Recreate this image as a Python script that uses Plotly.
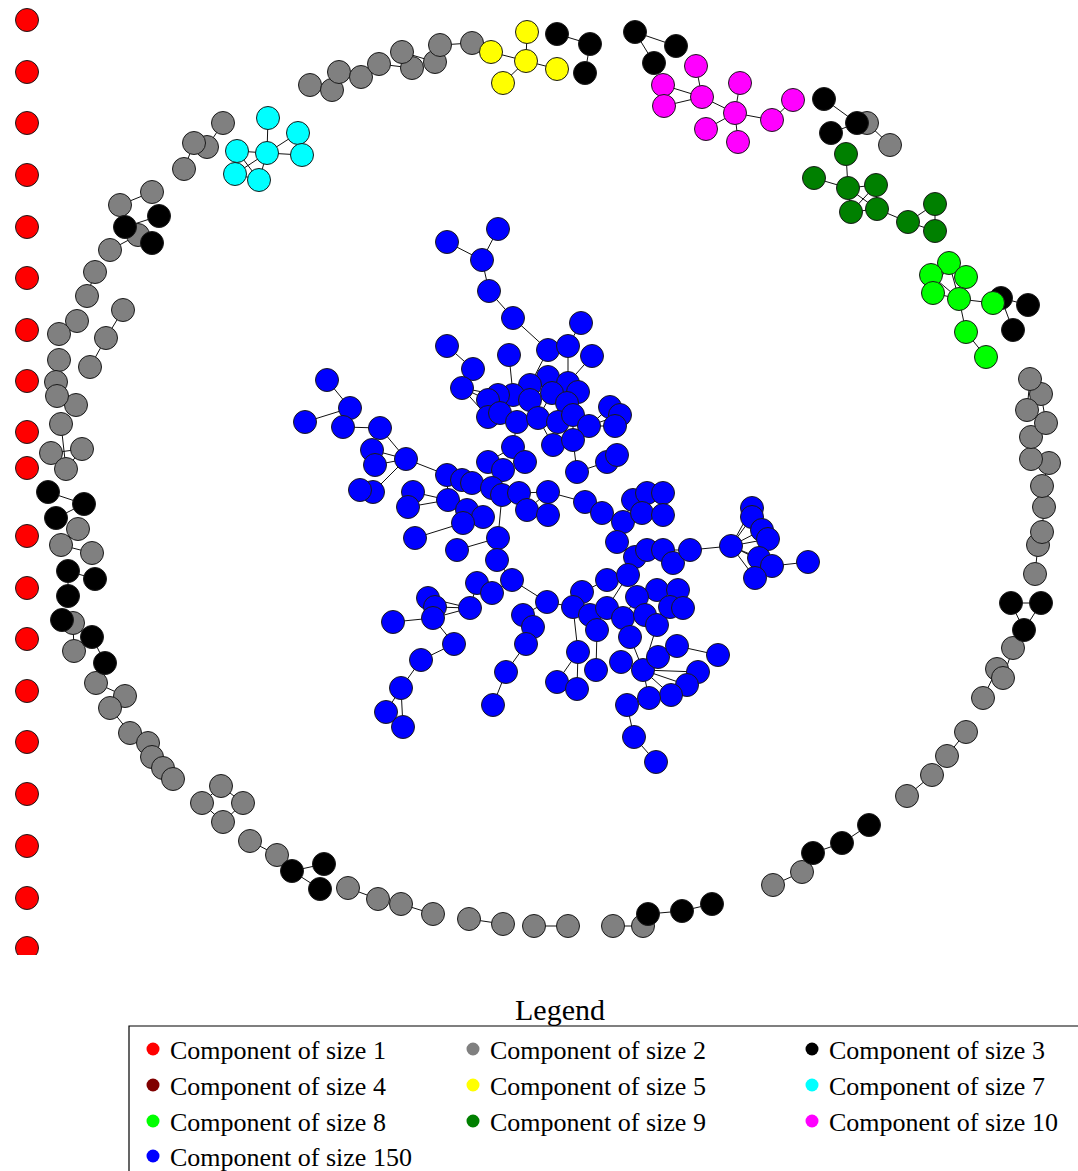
import plotly.graph_objects as go

# ---------------- data: node positions (layout coordinates) ----------------
red_x = [27] * 19
red_y = [20, 72, 123, 175, 227, 278, 330, 381, 432, 468, 536, 588, 639, 691, 742, 794, 846, 898, 948]
red_edges = []

gray_x = [310, 332, 339, 361, 379, 412, 402, 435, 440, 472,
          223, 207, 194, 184, 152, 120, 138, 110,
          95, 87, 77, 106, 123, 90, 59, 59,
          56, 76, 57, 61, 51, 82, 66,
          78, 61, 92, 73, 74,
          96, 125, 110, 130, 148, 152, 163, 173,
          221, 202, 243, 223,
          250, 277, 348, 378, 401, 433, 469, 503, 534, 568, 613, 643,
          773, 802, 907, 932, 947, 966, 983, 997, 1003, 1013,
          1035, 1038, 1042, 1044, 1042, 1049, 1031, 1031, 1046, 1041, 1027, 1030,
          867, 890]
gray_y = [85, 90, 72, 77, 64, 68, 52, 62, 45, 43,
          123, 147, 143, 169, 192, 205, 235, 250,
          272, 296, 321, 338, 310, 367, 334, 360,
          382, 405, 396, 424, 453, 449, 469,
          529, 545, 553, 623, 651,
          683, 696, 708, 733, 743, 757, 768, 779,
          786, 803, 803, 822,
          841, 855, 888, 899, 904, 914, 919, 924, 926, 926, 926, 926,
          885, 872, 796, 775, 756, 732, 698, 669, 678, 648,
          574, 545, 532, 507, 486, 463, 459, 437, 423, 394, 410, 379,
          123, 145]
gray_edges = [(0, 1), (2, 3), (4, 5), (6, 7), (8, 9), (10, 11), (12, 13), (14, 15), (16, 17),
              (18, 19), (20, 24), (21, 22), (23, 21), (25, 26), (27, 28), (29, 32), (30, 31), (32, 31),
              (33, 34), (34, 35), (36, 37), (38, 39), (40, 41), (42, 43), (44, 45),
              (46, 47), (46, 48), (47, 49), (48, 49),
              (50, 51), (52, 53), (54, 55), (56, 57), (58, 59), (60, 61),
              (62, 63), (64, 65), (66, 67), (68, 69), (70, 71),
              (72, 73), (74, 75), (76, 77), (78, 79), (80, 81), (82, 83), (84, 85)]

black_x = [557, 590, 585, 635, 676, 654, 824, 857, 831, 1001, 1028, 1013,
           1011, 1041, 1024, 869, 842, 813, 712, 682, 648, 324, 292, 320,
           62, 92, 105, 68, 95, 68, 48, 84, 56, 159, 125, 152]
black_y = [34, 44, 73, 32, 46, 63, 99, 123, 133, 298, 305, 330,
           603, 603, 630, 825, 843, 853, 904, 911, 914, 864, 871, 889,
           620, 637, 663, 571, 579, 596, 492, 504, 518, 216, 227, 243]
black_edges = [(0, 1), (1, 2), (3, 4), (3, 5), (6, 7), (7, 8), (9, 10), (9, 11),
               (12, 13), (13, 14), (12, 14), (15, 16), (16, 17), (18, 19), (19, 20),
               (21, 22), (22, 23), (24, 25), (25, 26), (27, 28), (27, 29),
               (30, 31), (31, 32), (33, 34), (34, 35)]

darkred_x, darkred_y, darkred_edges = [], [], []

yellow_x = [527, 491, 526, 557, 503]
yellow_y = [32, 52, 61, 69, 83]
yellow_edges = [(0, 2), (1, 2), (2, 3), (2, 4)]

cyan_x = [268, 298, 237, 267, 302, 235, 259]
cyan_y = [118, 133, 151, 153, 155, 174, 180]
cyan_edges = [(0, 3), (2, 3), (3, 4), (1, 3), (1, 4), (2, 5), (2, 6), (3, 5), (3, 6), (5, 6)]

lime_x = [949, 931, 966, 933, 959, 993, 966, 986]
lime_y = [263, 275, 277, 293, 299, 303, 332, 357]
lime_edges = [(0, 1), (0, 2), (1, 3), (2, 4), (3, 4), (0, 3), (1, 4), (0, 4), (4, 5), (4, 6), (6, 7)]

dgreen_x = [846, 814, 848, 876, 851, 877, 908, 935, 935]
dgreen_y = [154, 178, 188, 185, 212, 209, 222, 204, 231]
dgreen_edges = [(0, 2), (1, 2), (2, 3), (2, 4), (2, 5), (3, 4), (3, 5), (4, 5), (5, 6), (6, 7), (6, 8), (7, 8)]

magenta_x = [696, 663, 702, 664, 706, 740, 793, 735, 772, 738]
magenta_y = [66, 85, 97, 106, 129, 83, 100, 113, 120, 142]
magenta_edges = [(0, 2), (1, 2), (3, 2), (1, 3), (2, 7), (4, 7), (5, 7), (7, 8), (8, 6), (7, 9)]

blue_x = [447, 498, 482, 489, 513, 581, 447, 509, 548, 568, 592, 473, 462, 548, 530, 568, 578, 513, 498, 488,
          552, 530, 567, 488, 500, 517, 538, 558, 573, 610, 620, 615, 589, 553, 573, 513, 525, 488, 503, 607,
          617, 577, 327, 350, 305, 343, 380, 372, 375, 406, 373, 360, 447, 462, 472, 413, 408, 448, 492, 502,
          519, 527, 548, 548, 467, 483, 463, 585, 602, 623, 633, 647, 663, 642, 663, 617, 415, 457, 498, 497,
          512, 635, 647, 663, 673, 690, 607, 628, 477, 492, 547, 657, 678, 428, 435, 470, 433, 393, 582, 573,
          590, 607, 623, 637, 645, 657, 670, 683, 523, 533, 597, 630, 454, 421, 401, 386, 403, 526, 506, 493,
          578, 557, 577, 596, 621, 643, 658, 677, 698, 687, 671, 649, 627, 634, 656, 718, 731, 752, 752, 762,
          768, 759, 772, 755, 808]
blue_y = [242, 229, 260, 291, 318, 323, 346, 355, 350, 346, 356, 369, 388, 377, 385, 383, 392, 395, 395, 400,
          393, 400, 403, 417, 413, 422, 418, 422, 415, 407, 415, 426, 426, 445, 440, 447, 462, 462, 470, 462,
          455, 472, 380, 408, 422, 427, 428, 450, 465, 459, 492, 490, 475, 480, 483, 492, 507, 500, 488, 495,
          493, 510, 492, 515, 510, 517, 523, 502, 513, 522, 500, 493, 493, 513, 515, 542, 538, 550, 538, 560,
          580, 557, 550, 550, 563, 550, 580, 575, 583, 593, 602, 590, 590, 598, 607, 608, 618, 622, 592, 607,
          615, 608, 618, 597, 615, 625, 607, 608, 615, 627, 630, 637, 644, 660, 688, 712, 727, 644, 672, 705,
          652, 682, 689, 670, 662, 670, 657, 646, 672, 685, 695, 698, 705, 737, 762, 655, 546, 508, 517, 530,
          539, 558, 566, 578, 562]
blue_edges = [(0, 2), (1, 2), (2, 3), (3, 4), (4, 8), (5, 9), (6, 11), (7, 17), (8, 14), (9, 15), (10, 15),
              (11, 12), (12, 18), (12, 23), (12, 19), (13, 20), (14, 21), (15, 22), (16, 22), (17, 21), (18, 19),
              (19, 23), (20, 26), (21, 26), (22, 28), (23, 24), (24, 25), (25, 26), (26, 27), (27, 28), (28, 32),
              (29, 32), (30, 32), (31, 32), (33, 26), (34, 28), (34, 41), (41, 39), (39, 40), (25, 35), (35, 36),
              (35, 37), (37, 38), (38, 58), (13, 16), (33, 34),
              (42, 43), (44, 43), (43, 45), (45, 46), (46, 49), (47, 49), (48, 49), (50, 49), (51, 50), (49, 52),
              (52, 53), (53, 54), (54, 58), (52, 57), (55, 57), (56, 57), (57, 64), (64, 65), (64, 66), (58, 59),
              (59, 60), (60, 62), (61, 62), (62, 63), (62, 67), (59, 78),
              (67, 68), (68, 69), (69, 70), (70, 71), (71, 72), (70, 73), (73, 74), (72, 74), (69, 75), (75, 81),
              (81, 82), (82, 83), (83, 84), (83, 85), (85, 136),
              (136, 137), (136, 138), (136, 139), (136, 140), (136, 141), (136, 142), (136, 143), (142, 144),
              (141, 143), (137, 138), (139, 140),
              (76, 66), (77, 78), (78, 79), (79, 80), (80, 90), (80, 89), (88, 89), (95, 88), (93, 95), (94, 95),
              (96, 95), (97, 96), (90, 99), (98, 99), (99, 100), (100, 110), (87, 86), (86, 98), (101, 87),
              (102, 103), (103, 91), (104, 105), (104, 102), (106, 107), (91, 92), (92, 106), (81, 87), (100, 101),
              (108, 109), (108, 90), (109, 117), (117, 118), (118, 119), (112, 96), (112, 113), (113, 114),
              (114, 116), (114, 115), (120, 121), (120, 122), (123, 110), (99, 120), (111, 125), (124, 125),
              (125, 126), (125, 128), (125, 129), (125, 130), (125, 131), (131, 132), (132, 133), (133, 134),
              (126, 127), (127, 135), (105, 125), (111, 102)]

legend_labels = ["Component of size 1", "Component of size 2", "Component of size 3",
                 "Component of size 4", "Component of size 5", "Component of size 7",
                 "Component of size 8", "Component of size 9", "Component of size 10",
                 "Component of size 150"]

# ---------------- styles ----------------
groups = [
    (red_x, red_y, red_edges, "#FF0000"),
    (gray_x, gray_y, gray_edges, "#808080"),
    (black_x, black_y, black_edges, "#000000"),
    (darkred_x, darkred_y, darkred_edges, "#800000"),
    (yellow_x, yellow_y, yellow_edges, "#FFFF00"),
    (cyan_x, cyan_y, cyan_edges, "#00FFFF"),
    (lime_x, lime_y, lime_edges, "#00FF00"),
    (dgreen_x, dgreen_y, dgreen_edges, "#008000"),
    (magenta_x, magenta_y, magenta_edges, "#FF00FF"),
    (blue_x, blue_y, blue_edges, "#0000FF"),
]
legend_colors = ["#FF0000", "#808080", "#000000", "#800000", "#FFFF00", "#00FFFF",
                 "#00FF00", "#008000", "#FF00FF", "#0000FF"]

W, H = 1078, 1171
PLOT_H = 955

fig = go.Figure()

# edges
ex, ey = [], []
for xs, ys, edges, _ in groups:
    for a, b in edges:
        ex += [xs[a], xs[b], None]
        ey += [ys[a], ys[b], None]
fig.add_trace(go.Scatter(x=ex, y=ey, mode="lines", line=dict(color="#111111", width=1),
                         hoverinfo="skip", showlegend=False))

# nodes
for (xs, ys, _, col), name in zip(groups, legend_labels):
    if not xs:
        continue
    fig.add_trace(go.Scatter(x=xs, y=ys, mode="markers", name=name, showlegend=False,
                             marker=dict(size=23, color=col, line=dict(color="#1a1a1a", width=1))))

fig.update_xaxes(range=[0, W], visible=False, fixedrange=True)
fig.update_yaxes(range=[PLOT_H, 0], visible=False, fixedrange=True)


def py(p):
    # pixel row in the page -> paper y
    return (PLOT_H - p) / PLOT_H


def pxx(p):
    return p / W


shapes = []
annotations = []
# legend box
shapes.append(dict(type="rect", xref="paper", yref="paper",
                   x0=pxx(129), x1=pxx(1090), y0=py(1026), y1=py(1190),
                   line=dict(color="black", width=1.2), fillcolor="rgba(0,0,0,0)"))
annotations.append(dict(text="Legend", xref="paper", yref="paper", x=pxx(560), y=py(1009),
                        xanchor="center", yanchor="middle", showarrow=False, borderpad=0,
                        font=dict(family="Liberation Serif", size=30, color="black")))
col_dot = [153, 473, 812]
row_y = [1049, 1085, 1121, 1156]
for i, (lab, c) in enumerate(zip(legend_labels, legend_colors)):
    r, k = divmod(i, 3)
    cx, cy = col_dot[k], row_y[r]
    shapes.append(dict(type="circle", xref="paper", yref="paper",
                       x0=pxx(cx - 6.5), x1=pxx(cx + 6.5), y0=py(cy + 6.5), y1=py(cy - 6.5),
                       fillcolor=c, line=dict(color=c, width=0)))
    annotations.append(dict(text=lab, xref="paper", yref="paper", x=pxx(cx + 16), y=py(cy + 1),
                            xanchor="left", yanchor="middle", showarrow=False, borderpad=0,
                            font=dict(family="Liberation Serif", size=26, color="black")))

fig.update_layout(width=W, height=H, margin=dict(l=0, r=0, t=0, b=H - PLOT_H),
                  plot_bgcolor="white", paper_bgcolor="white",
                  shapes=shapes, annotations=annotations, showlegend=False)

fig.write_html("out.html", config={"displayModeBar": False, "staticPlot": True},
               post_script="document.body.style.margin='0px';document.body.style.overflow='hidden';")
